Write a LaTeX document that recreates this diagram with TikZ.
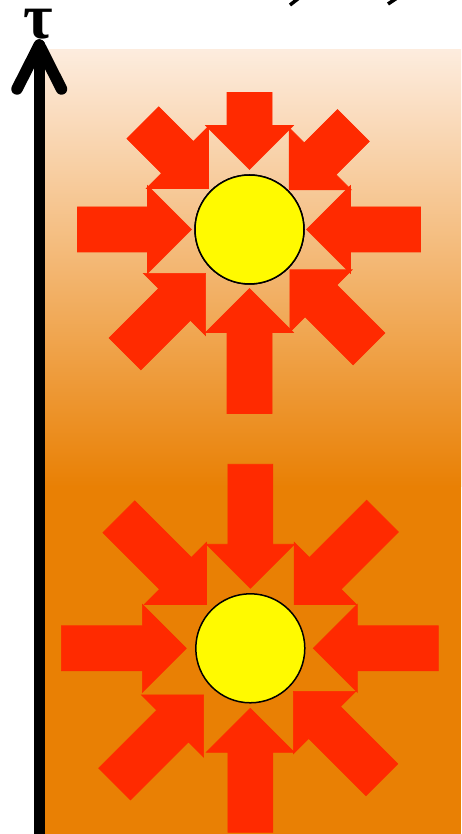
\documentclass[tikz,border=0pt]{standalone}
\usepackage{fontspec}
\newfontfamily\greekfont{Liberation Serif}
\definecolor{pushred}{RGB}{255,42,0}
\definecolor{bgtop}{RGB}{253,236,222}
\definecolor{bgorange}{RGB}{233,128,4}
\definecolor{sunyellow}{RGB}{255,250,0}
\tikzset{
  sun/.style={circle, draw=black, line width=1.5pt, fill=sunyellow, minimum size=109pt, inner sep=0pt},
  timeaxis/.style={line width=11.5pt, line cap=round, line join=round}
}
% fat arrow pointing at a node: node, angle, tip distance, tail distance
\newcommand{\squeeze}[4]{%
  \filldraw[pushred, line width=0.6pt, shift={(#1.center)}, rotate=#2]
    (#3,0) -- (#3+44,44) -- (#3+44,22.5) -- (#4,22.5) -- (#4,-22.5)
    -- (#3+44,-22.5) -- (#3+44,-44) -- cycle;}
\begin{document}
\begin{tikzpicture}[x=1pt, y=1pt]
  \useasboundingbox (0,0) rectangle (461,834);
  % Background
  \shade[top color=bgtop, bottom color=bgorange] (45,347) rectangle (461,784);
  \fill[bgorange] (45,0) rectangle (461,347.5);
  % Cut-off strokes at the top
  \draw[line width=3.5pt] (290,829) -- (299,836);
  \draw[line width=3.5pt] (388,830) -- (397,836);
  % Time axis
  \coordinate (axisfoot) at (39.3,-6);
  \coordinate (axistip) at (39.3,789);
  \draw[timeaxis] (axisfoot) -- (axistip);
  \draw[timeaxis] (17,745) -- (axistip) -- (61.5,745);
  \node[font=\greekfont\bfseries\fontsize{64}{64}\selectfont, inner sep=0pt, anchor=base] (tau) at (38,795) {τ};
  % Upper particle
  \node[sun] (sunA) at (249.5,604.5) {};
  \squeeze{sunA}{90}{60}{137}
  \squeeze{sunA}{270}{59}{184}
  \squeeze{sunA}{180}{58}{172}
  \squeeze{sunA}{0}{57}{171}
  \squeeze{sunA}{135}{58}{151}
  \squeeze{sunA}{45}{56}{147}
  \squeeze{sunA}{225}{62}{176}
  \squeeze{sunA}{315}{57}{169}
  \node[sun] at (sunA) {};
  % Lower particle
  \node[sun] (sunB) at (250.3,185.7) {};
  \squeeze{sunB}{90}{60}{184}
  \squeeze{sunB}{270}{60}{184}
  \squeeze{sunB}{180}{64}{189}
  \squeeze{sunB}{0}{63}{188}
  \squeeze{sunB}{135}{62}{186}
  \squeeze{sunB}{45}{62}{187}
  \squeeze{sunB}{225}{66}{192}
  \squeeze{sunB}{315}{61}{186}
\end{tikzpicture}
\end{document}
